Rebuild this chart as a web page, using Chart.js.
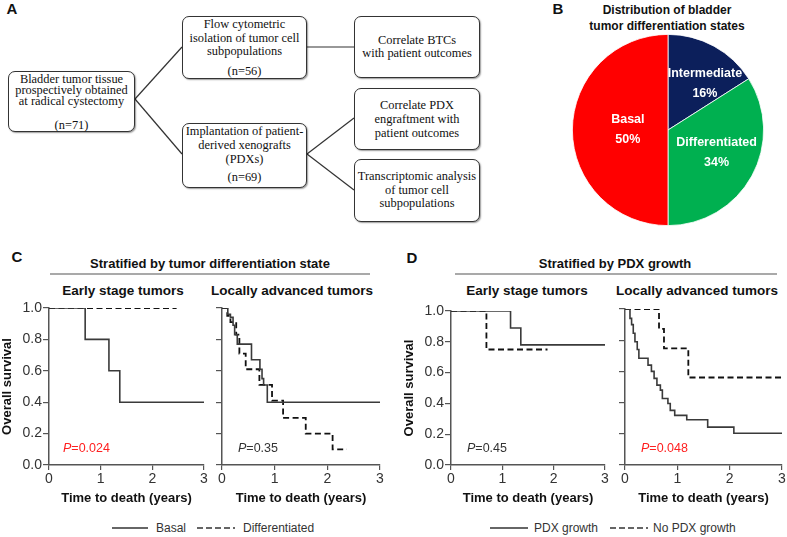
<!DOCTYPE html>
<html>
<head>
<meta charset="utf-8">
<script src="https://cdn.jsdelivr.net/npm/chart.js@4.4.0/dist/chart.umd.min.js"></script>
<style>
  body { margin: 0; background: #fff; }
  #fig { position: relative; width: 787px; height: 537px; overflow: hidden; background: #fff;
         font-family: Arial, "Liberation Sans", sans-serif; color: #111; }
  .t { position: absolute; transform: translate(-50%, -50%); white-space: nowrap; }
  .tl { position: absolute; transform: translateY(-50%); white-space: nowrap; }
  .panel { font-weight: bold; font-size: 15px; }
  .head { font-weight: bold; font-size: 13px; }
  .sub { font-weight: bold; font-size: 13.5px; }
  .leg { font-size: 12px; color: #333; }
  .pval { font-size: 12.5px; color: #333; }
  .pval.red { color: #ff2020; }
  .box { position: absolute; box-sizing: border-box; border: 1.3px solid #333; border-radius: 7px;
         background: #fff; box-shadow: 1px 1px 1.5px rgba(0,0,0,.4); z-index: 1;
         font-family: "Times New Roman", "Liberation Serif", serif; font-size: 12.4px;
         text-align: center; white-space: nowrap; color: #111; }
  .mid { display: flex; flex-direction: column; justify-content: center; }
  canvas { position: absolute; }
  svg { position: absolute; left: 0; top: 0; z-index: 0; }
</style>
</head>
<body>
<div id="fig">
  <svg width="787" height="537">
    <g stroke="#333" stroke-width="1.2" fill="none">
      <line x1="135" y1="99" x2="182" y2="47"/>
      <line x1="135" y1="99" x2="182" y2="154"/>
      <line x1="307" y1="47" x2="354" y2="47"/>
      <line x1="307" y1="154" x2="354" y2="118"/>
      <line x1="307" y1="154" x2="354" y2="190"/>
    </g>
    <g stroke="#555" stroke-width="1.2">
      <line x1="50" y1="274" x2="370" y2="274"/>
      <line x1="455" y1="274" x2="777" y2="274"/>
    </g>
    <g stroke="#333" stroke-width="1.3">
      <line x1="112" y1="528" x2="148" y2="528"/>
      <line x1="197" y1="528" x2="235" y2="528" stroke-dasharray="6 3"/>
      <line x1="490" y1="528" x2="528" y2="528"/>
      <line x1="610" y1="528" x2="648" y2="528" stroke-dasharray="6 3"/>
    </g>
  </svg>

  <!-- A : schéma de l'étude -->
  <div class="t panel" style="left:12px;top:8px">A</div>
  <div class="box" style="left:8px;top:71px;width:127px;height:61px;line-height:11px;padding-top:2px">
    Bladder tumor tissue<br>prospectively obtained<br>at radical cystectomy
    <div style="margin-top:13px">(n=71)</div>
  </div>
  <div class="box" style="left:182px;top:16px;width:125px;height:63px;line-height:13.5px;padding-top:1px">
    Flow cytometric<br>isolation of tumor cell<br>subpopulations
    <div style="margin-top:6px">(n=56)</div>
  </div>
  <div class="box mid" style="left:354px;top:16px;width:126px;height:62px;line-height:13.5px">
    <div>Correlate BTCs<br>with patient outcomes</div>
  </div>
  <div class="box mid" style="left:354px;top:88px;width:126px;height:62px;line-height:14px">
    <div>Correlate PDX<br>engraftment with<br>patient outcomes</div>
  </div>
  <div class="box" style="left:182px;top:123px;width:125px;height:65px;line-height:14px;padding-top:0px">
    Implantation of patient-<br>derived xenografts<br>(PDXs)
    <div style="margin-top:4px">(n=69)</div>
  </div>
  <div class="box mid" style="left:354px;top:159px;width:126px;height:63px;line-height:13.5px">
    <div>Transcriptomic analysis<br>of tumor cell<br>subpopulations</div>
  </div>

  <!-- B : camembert -->
  <div class="t panel" style="left:558px;top:8px">B</div>
  <div class="t head" style="left:667px;top:10px;font-size:12px">Distribution of bladder</div>
  <div class="t head" style="left:667px;top:26px;font-size:12px">tumor differentiation states</div>
  <canvas id="pieChart" width="200" height="200" style="left:568px;top:30px"></canvas>

  <!-- C -->
  <div class="t panel" style="left:17px;top:256px">C</div>
  <div class="t head" style="left:210px;top:263px">Stratified by tumor differentiation state</div>
  <div class="t sub" style="left:123px;top:290px">Early stage tumors</div>
  <div class="t sub" style="left:292px;top:290px">Locally advanced tumors</div>
  <canvas id="cEarly" width="212" height="208" style="left:0px;top:298px"></canvas>
  <canvas id="cLate" width="176" height="208" style="left:212px;top:298px"></canvas>
  <div class="tl pval red" style="left:63px;top:448px"><i>P</i>=0.024</div>
  <div class="tl pval" style="left:238px;top:448px"><i>P</i>=0.35</div>
  <div class="tl leg" style="left:156px;top:528px">Basal</div>
  <div class="tl leg" style="left:243px;top:528px">Differentiated</div>

  <!-- D -->
  <div class="t panel" style="left:412px;top:257px">D</div>
  <div class="t head" style="left:615px;top:263px">Stratified by PDX growth</div>
  <div class="t sub" style="left:527px;top:290px">Early stage tumors</div>
  <div class="t sub" style="left:697px;top:290px">Locally advanced tumors</div>
  <canvas id="dEarly" width="211" height="205" style="left:402px;top:301px"></canvas>
  <canvas id="dLate" width="175" height="207" style="left:615px;top:299px"></canvas>
  <div class="tl pval" style="left:467px;top:448px"><i>P</i>=0.45</div>
  <div class="tl pval red" style="left:641px;top:448px"><i>P</i>=0.048</div>
  <div class="tl leg" style="left:534px;top:528px">PDX growth</div>
  <div class="tl leg" style="left:653px;top:528px">No PDX growth</div>
</div>

<script>
// Données du camembert (B)
const pieLabels = ['Intermediate', 'Differentiated', 'Basal'];
const piePercents = [16, 34, 50];
const pieColors = ['#0c1f5b', '#00b050', '#ff0000'];

// Graduations communes des courbes de survie
const yearTicks = [0, 1, 2, 3];
const survivalTicks = [0, 0.2, 0.4, 0.6, 0.8, 1.0];

// C - tumeurs précoces
const cEarlyBasalTime = [0, 0.70, 1.16, 1.37, 3.0];
const cEarlyBasalSurv = [1, 0.8, 0.6, 0.4, 0.4];
const cEarlyDiffTime = [0, 2.47];
const cEarlyDiffSurv = [1, 1];

// C - tumeurs localement avancées
const cLateBasalTime = [0, 0.11, 0.16, 0.21, 0.24, 0.29, 0.56, 0.72, 0.76, 0.79, 0.86, 3.0];
const cLateBasalSurv = [1, 0.96, 0.94, 0.89, 0.83, 0.77, 0.67, 0.61, 0.55, 0.51, 0.40, 0.40];
const cLateDiffTime = [0, 0.10, 0.16, 0.27, 0.33, 0.45, 0.71, 0.95, 1.16, 1.59, 2.10, 2.37];
const cLateDiffSurv = [1, 0.95, 0.91, 0.83, 0.71, 0.61, 0.51, 0.41, 0.30, 0.20, 0.10, 0.10];

// D - tumeurs précoces
const dEarlyGrowthTime = [0, 1.16, 1.36, 3.0];
const dEarlyGrowthSurv = [1, 0.89, 0.78, 0.78];
const dEarlyNoGrowthTime = [0, 0.69, 1.88];
const dEarlyNoGrowthSurv = [1, 0.75, 0.75];

// D - tumeurs localement avancées
const dLateGrowthTime = [0, 0.095, 0.126, 0.158, 0.19, 0.234, 0.265, 0.44, 0.505, 0.556, 0.61, 0.676, 0.714, 0.82, 0.865, 0.95, 1.18, 1.58, 2.08, 3.0];
const dLateGrowthSurv = [1, 0.94, 0.90, 0.845, 0.79, 0.74, 0.684, 0.64, 0.60, 0.555, 0.512, 0.48, 0.426, 0.394, 0.35, 0.318, 0.29, 0.243, 0.204, 0.204];
const dLateNoGrowthTime = [0, 0.65, 0.745, 1.21, 3.0];
const dLateNoGrowthSurv = [1, 0.873, 0.748, 0.561, 0.561];

Chart.defaults.font.family = 'Arial, "Liberation Sans", sans-serif';

const toPoints = (times, surv) => times.map((t, i) => ({ x: t, y: surv[i] }));

// Etiquettes blanches dans les parts du camembert
const pieLabelPlugin = {
    id: 'pieLabels',
    afterDatasetsDraw(chart) {
        const ctx = chart.ctx;
        const place = [{ frac: 0.62, turn: 0.17 }, { frac: 0.56, turn: -0.07 }, { frac: 0.42, turn: 0 }];
        ctx.save();
        ctx.fillStyle = '#fff';
        ctx.font = 'bold 12.5px Arial, "Liberation Sans", sans-serif';
        ctx.textAlign = 'center';
        ctx.textBaseline = 'middle';
        chart.getDatasetMeta(0).data.forEach((arc, i) => {
            const p = arc.getProps(['x', 'y', 'startAngle', 'endAngle', 'outerRadius']);
            const a = (p.startAngle + p.endAngle) / 2 + place[i].turn;
            const r = p.outerRadius * place[i].frac;
            const x = p.x + Math.cos(a) * r;
            const y = p.y + Math.sin(a) * r;
            ctx.fillText(pieLabels[i], x, y - 10);
            ctx.fillText(piePercents[i] + '%', x, y + 10);
        });
        ctx.restore();
    }
};

new Chart(document.getElementById('pieChart'), {
    type: 'pie',
    data: {
        labels: pieLabels,
        datasets: [{ data: piePercents, backgroundColor: pieColors, borderColor: '#fff', borderWidth: 0.8 }]
    },
    options: {
        responsive: false,
        animation: false,
        layout: { padding: 4 },
        plugins: { legend: { display: false }, tooltip: { enabled: false } }
    },
    plugins: [pieLabelPlugin]
});

// Fonction générique pour les courbes de Kaplan-Meier
function kmChart(canvasId, solid, dashed, showY) {
    new Chart(document.getElementById(canvasId), {
        type: 'line',
        data: {
            datasets: [
                { data: toPoints(solid[0], solid[1]), borderColor: '#3a3a3a', borderWidth: 1.6,
                  stepped: true, pointRadius: 0, fill: false },
                { data: toPoints(dashed[0], dashed[1]), borderColor: '#111', borderWidth: 1.8,
                  borderDash: [6, 3.5], stepped: true, pointRadius: 0, fill: false }
            ]
        },
        options: {
            responsive: false,
            animation: false,
            layout: { padding: { top: 10, right: 8, left: 0, bottom: 0 } },
            plugins: { legend: { display: false }, tooltip: { enabled: false } },
            scales: {
                x: {
                    type: 'linear', min: yearTicks[0], max: yearTicks[yearTicks.length - 1],
                    afterBuildTicks: s => { s.ticks = yearTicks.map(v => ({ value: v })); },
                    ticks: { color: '#333', font: { size: 14 }, padding: 1, maxRotation: 0, callback: v => v },
                    grid: { drawOnChartArea: false, drawTicks: true, tickLength: 5, color: '#555', lineWidth: 1.2 },
                    border: { color: '#555', width: 1.5 },
                    title: { display: true, text: 'Time to death (years)', color: '#111',
                             font: { size: 13, weight: 'bold' }, padding: 0 },
                    afterFit: s => { s.height = 41; }
                },
                y: {
                    min: 0, max: 1,
                    afterBuildTicks: s => { s.ticks = survivalTicks.map(v => ({ value: v })); },
                    ticks: { display: showY, color: '#333', font: { size: 14 }, padding: 1,
                             callback: v => Number(v).toFixed(1) },
                    grid: { drawOnChartArea: false, drawTicks: true, tickLength: 6, color: '#555', lineWidth: 1.2 },
                    border: { color: '#555', width: 1.5 },
                    title: { display: showY, text: 'Overall survival', color: '#111',
                             font: { size: 13, weight: 'bold' }, padding: 0 },
                    afterFit: s => { s.width = showY ? 49 : 10; }
                }
            }
        }
    });
}

kmChart('cEarly', [cEarlyBasalTime, cEarlyBasalSurv], [cEarlyDiffTime, cEarlyDiffSurv], true);
kmChart('cLate', [cLateBasalTime, cLateBasalSurv], [cLateDiffTime, cLateDiffSurv], false);
kmChart('dEarly', [dEarlyGrowthTime, dEarlyGrowthSurv], [dEarlyNoGrowthTime, dEarlyNoGrowthSurv], true);
kmChart('dLate', [dLateGrowthTime, dLateGrowthSurv], [dLateNoGrowthTime, dLateNoGrowthSurv], false);
</script>
</body>
</html>
